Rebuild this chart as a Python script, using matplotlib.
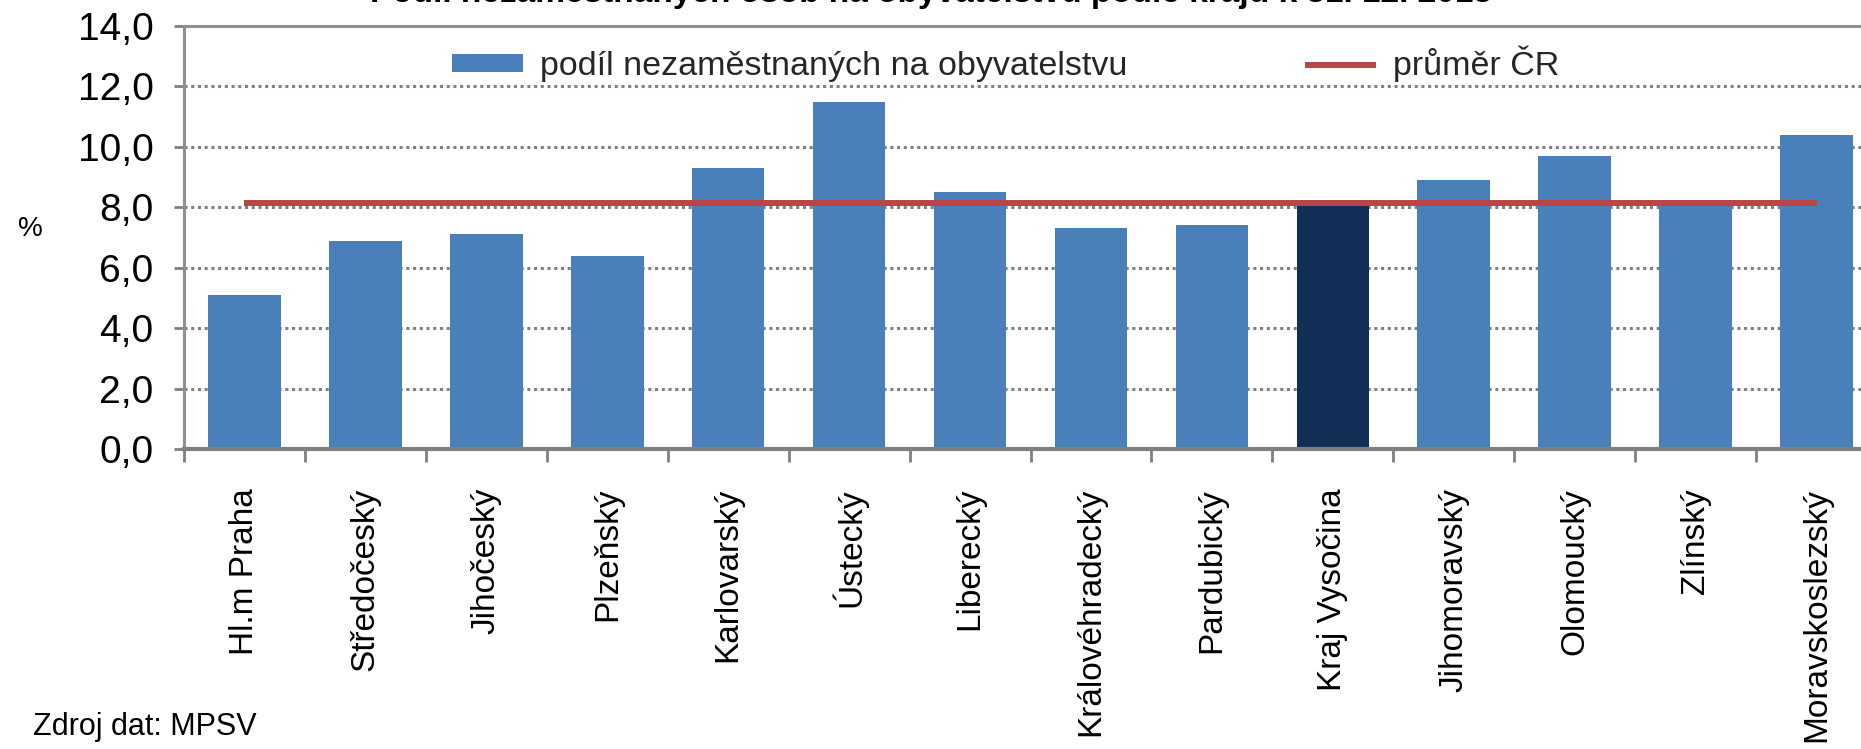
import matplotlib
matplotlib.use("Agg")
import matplotlib.pyplot as plt
import numpy as np

# data
regions = ["Hl.m Praha", "Středočeský", "Jihočeský", "Plzeňský", "Karlovarský",
           "Ústecký", "Liberecký", "Královéhradecký", "Pardubický", "Kraj Vysočina",
           "Jihomoravský", "Olomoucký", "Zlínský", "Moravskoslezský"]
share = [5.1, 6.9, 7.1, 6.4, 9.3, 11.5, 8.5, 7.3, 7.4, 8.1, 8.9, 9.7, 8.1, 10.4]
cr_average = 8.15
highlight = "Kraj Vysočina"

title = "Podíl nezaměstnaných osob na obyvatelstvu podle krajů k 31. 12. 2013"
bar_label = "podíl nezaměstnaných na obyvatelstvu"
line_label = "průměr ČR"
source = "Zdroj dat: MPSV"

plt.rcParams['font.family'] = ['Liberation Sans', 'DejaVu Sans']

blue = '#4A80B9'
navy = '#122F57'
red = '#B94545'
grey = '#808080'

fig = plt.figure(figsize=(18.61, 7.49), dpi=100)
ax = fig.add_axes([184 / 1861, 1 - 449 / 749, 1693 / 1861, 423 / 749])

x = np.arange(len(regions))
colors = [navy if r == highlight else blue for r in regions]
bars = ax.bar(x, share, width=0.6, color=colors, zorder=2)
line, = ax.plot(x, [cr_average] * len(x), color=red, lw=4.3, zorder=3,
                solid_capstyle='butt')

ax.set_xlim(-0.5, len(regions) - 0.5)
ax.set_ylim(0, 14)
yt = np.arange(0, 15, 2)
ax.set_yticks(yt)
ax.set_yticklabels([f"{v:.1f}".replace('.', ',') for v in yt], fontsize=28)
ax.tick_params(axis='y', length=7, width=2, color=grey, pad=15)

# category boundaries as ticks, names as minor labels
ax.set_xticks(np.arange(len(regions) + 1) - 0.5)
ax.set_xticklabels([])
ax.set_xticks(x, minor=True)
ax.set_xticklabels(regions, minor=True, rotation=90, va='top', ha='center', fontsize=24)
ax.tick_params(axis='x', which='major', length=9, width=2, color=grey, direction='out')
ax.tick_params(axis='x', which='minor', length=0, pad=28)

for v in yt[1:-1]:
    ax.axhline(v, color=grey, lw=2.2, ls=(0, (1, 1.2)), zorder=1)

for s in ['left', 'top']:
    ax.spines[s].set_color('#909090')
    ax.spines[s].set_linewidth(2.2)
ax.spines['bottom'].set_color(grey)
ax.spines['bottom'].set_linewidth(3)
ax.spines['right'].set_visible(False)

leg = ax.legend([bars[0], line], [bar_label, line_label],
                loc='center left', bbox_to_anchor=(452 / 1861, 1 - 64 / 749),
                bbox_transform=fig.transFigure, ncol=2, frameon=False,
                fontsize=24.5, handlelength=2.1, handleheight=0.4,
                handletextpad=0.5, columnspacing=5.2, borderaxespad=0, borderpad=0)
for t in leg.get_texts():
    t.set_color('#262626')

fig.text(30 / 1861, 1 - 229 / 749, "%", fontsize=20, ha='center', va='center')
fig.text(33 / 1861, 1 - 735 / 749, source, fontsize=22, ha='left', va='baseline')
fig.text(0.5, 1 - 2 / 749, title, fontsize=24, fontweight='bold', ha='center', va='baseline')

fig.savefig("out.png", dpi=100)
